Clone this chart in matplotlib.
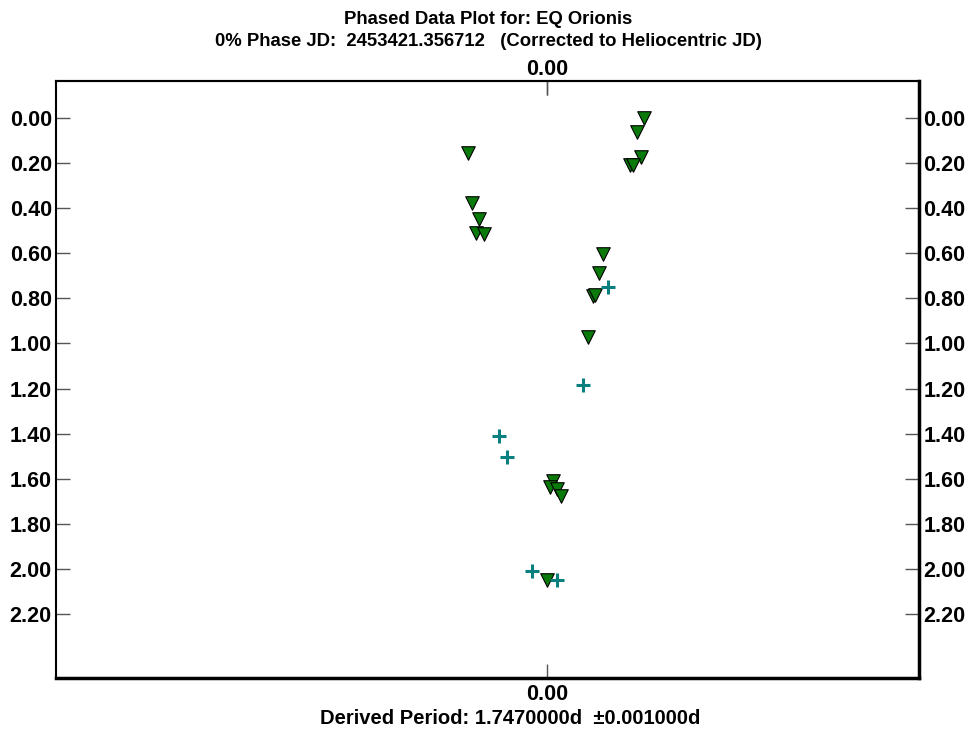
import matplotlib
matplotlib.use("Agg")
import matplotlib.pyplot as plt

# ---- data ----
tri_x = [0.2425, 0.225, 0.235, 0.2075, 0.215, -0.1975, -0.1875, -0.17, -0.1775, -0.1575,
         0.14, 0.13, 0.115, 0.12, 0.1025, 0.015, 0.0075, 0.025, 0.035, 0.0]
tri_y = [0.00, 0.062, 0.173, 0.208, 0.208, 0.155, 0.377, 0.448, 0.51, 0.514,
         0.603, 0.687, 0.789, 0.785, 0.971, 1.61, 1.636, 1.645, 1.676, 2.049]
plus_x = [0.1525, 0.09, -0.12, -0.10, -0.0375, 0.025]
plus_y = [0.749, 1.184, 1.41, 1.503, 2.009, 2.049]
y_ticks = [0.00, 0.20, 0.40, 0.60, 0.80, 1.00, 1.20, 1.40, 1.60, 1.80, 2.00, 2.20]
x_ticks = [0.00]
title1 = "Phased Data Plot for: EQ Orionis"
title2 = "0% Phase JD:  2453421.356712   (Corrected to Heliocentric JD)"
footer = "Derived Period: 1.7470000d  \u00b10.001000d"

plt.rcParams['font.family'] = ["Liberation Sans", "DejaVu Sans"]

W, H = 969, 731
fig = plt.figure(figsize=(W / 100, H / 100), dpi=100)
L, R, T, B = 56, 919, 81, 678
ax = fig.add_axes([L / W, 1 - B / H, (R - L) / W, (B - T) / H])

ax.scatter(tri_x, tri_y, marker='v', s=95, facecolor='#0a7a0a', edgecolor='black',
           linewidths=0.8, zorder=3)
ax.scatter(plus_x, plus_y, marker='+', s=100, color='#0a7f80', linewidths=2.2, zorder=3)

ax.set_xlim(-491 / 400, 372 / 400)
ax.set_ylim(2.484, -0.164)
ax.set_yticks(y_ticks)
ax.set_yticklabels([f"{v:.2f}" for v in y_ticks])
ax.set_xticks(x_ticks)
ax.set_xticklabels([f"{v:.2f}" for v in x_ticks])

ax.tick_params(axis='both', which='both', direction='in', length=10, width=1,
               color='#555555', top=True, right=True, labeltop=False, labelright=True,
               labelsize=15.5, pad=3)
ax.tick_params(axis='x', pad=4)
for t in ax.yaxis.get_major_ticks() + ax.xaxis.get_major_ticks():
    t.label1.set_fontweight('bold')
    t.label2.set_fontweight('bold')

sec = ax.secondary_xaxis('top')
sec.set_xticks(x_ticks)
sec.set_xticklabels([f"{v:.2f}" for v in x_ticks], fontweight='bold')
sec.tick_params(direction='in', length=10, width=1, color='#555555', labelsize=15.5, pad=1)
sec.spines['top'].set_linewidth(1.5)

for s in ['left', 'top']:
    ax.spines[s].set_linewidth(1.5)
for s in ['right', 'bottom']:
    ax.spines[s].set_linewidth(2.5)

fig.text(488 / W, 1 - 19 / H, title1, ha='center', va='center', fontsize=13.3, fontweight='bold')
fig.text(488 / W, 1 - 41 / H, title2, ha='center', va='center', fontsize=13.3, fontweight='bold')
fig.text(510 / W, 1 - 718 / H, footer, ha='center', va='center', fontsize=14.5, fontweight='bold')

fig.savefig("out.png", dpi=100)
